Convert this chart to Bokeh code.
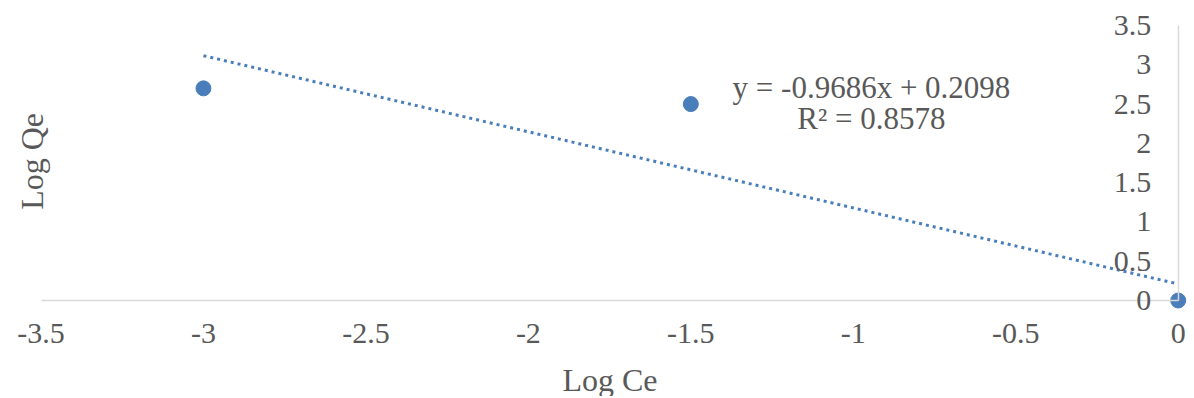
from bokeh.plotting import figure
from bokeh.models import Range1d, FixedTicker, Label
from bokeh.embed import file_html
from bokeh.resources import INLINE

# ---- data ----
log_ce = [-3.0, -1.5, 0.0]
log_qe = [2.70, 2.50, 0.0]
trend_slope = -0.9686
trend_intercept = 0.2098
r_squared = 0.8578
x_ticks = [-3.5, -3.0, -2.5, -2.0, -1.5, -1.0, -0.5, 0.0]
x_tick_labels = ["-3.5", "-3", "-2.5", "-2", "-1.5", "-1", "-0.5", "0"]
y_ticks = [0.0, 0.5, 1.0, 1.5, 2.0, 2.5, 3.0, 3.5]
y_tick_labels = ["0", "0.5", "1", "1.5", "2", "2.5", "3", "3.5"]
x_title = "Log Ce"
y_title = "Log Qe"

trend_x = [min(log_ce), max(log_ce)]
trend_y = [trend_slope * v + trend_intercept for v in trend_x]
eq_text = f"y = {trend_slope}x + {trend_intercept}"
r2_text = f"R\u00b2 = {r_squared}"

FONT = "Liberation Serif"
BLUE = "#4a7ebb"
GREY_TXT = "#595959"
AXIS_CLR = "#d9d9d9"

p = figure(width=1190, height=396, output_backend="svg", toolbar_location=None,
           x_range=Range1d(-3.6247, 0.0379), y_range=Range1d(-1.2218, 3.8182),
           min_border=0, min_border_left=0, min_border_right=0,
           min_border_top=0, min_border_bottom=0)
p.outline_line_color = None
p.grid.visible = False
p.background_fill_color = "white"
p.border_fill_color = "white"

# x axis at y=0
xa = p.xaxis[0]
xa.fixed_location = 0
xa.bounds = (x_ticks[0], x_ticks[-1])
xa.ticker = FixedTicker(ticks=x_ticks)
xa.major_label_overrides = {t: l for t, l in zip(x_ticks, x_tick_labels)}
xa.axis_label = x_title
xa.axis_label_text_font = FONT
xa.axis_label_text_font_size = "32px"
xa.axis_label_text_font_style = "normal"
xa.axis_label_text_color = GREY_TXT
xa.axis_label_standoff = 16
xa.major_label_text_font = FONT
xa.major_label_text_font_size = "30px"
xa.major_label_text_color = GREY_TXT
xa.major_label_standoff = 23
xa.major_tick_in = 0
xa.major_tick_out = 0
xa.minor_tick_in = 0
xa.minor_tick_out = 0
xa.axis_line_color = AXIS_CLR
xa.axis_line_width = 1.5

# y axis at x=0
ya = p.yaxis[0]
ya.fixed_location = 0
ya.bounds = (y_ticks[0], y_ticks[-1])
ya.ticker = FixedTicker(ticks=y_ticks)
ya.major_label_overrides = {t: l for t, l in zip(y_ticks, y_tick_labels)}
ya.major_label_text_font = FONT
ya.major_label_text_font_size = "30px"
ya.major_label_text_color = GREY_TXT
ya.major_label_standoff = 27
ya.major_tick_in = 0
ya.major_tick_out = 0
ya.minor_tick_in = 0
ya.minor_tick_out = 0
ya.axis_line_color = AXIS_CLR
ya.axis_line_width = 1.5

# trend line
p.line(trend_x, trend_y, line_color=BLUE, line_width=3, line_dash="3 4")
# points
p.scatter(log_ce, log_qe, size=15, fill_color=BLUE, line_color=BLUE)

# y title
p.add_layout(Label(x=-3.527, y=1.77, text=y_title, angle=90, angle_units="deg",
                   text_align="center", text_baseline="alphabetic",
                   text_font=FONT, text_font_size="32px", text_color=GREY_TXT))
# equation
p.add_layout(Label(x=-0.944, y=2.715, text=eq_text, text_align="center",
                   text_baseline="alphabetic", text_font=FONT,
                   text_font_size="31px", text_color=GREY_TXT))
p.add_layout(Label(x=-0.944, y=2.313, text=r2_text, text_align="center",
                   text_baseline="alphabetic", text_font=FONT,
                   text_font_size="31px", text_color=GREY_TXT))

open("out.html", "w").write(file_html(p, INLINE))
